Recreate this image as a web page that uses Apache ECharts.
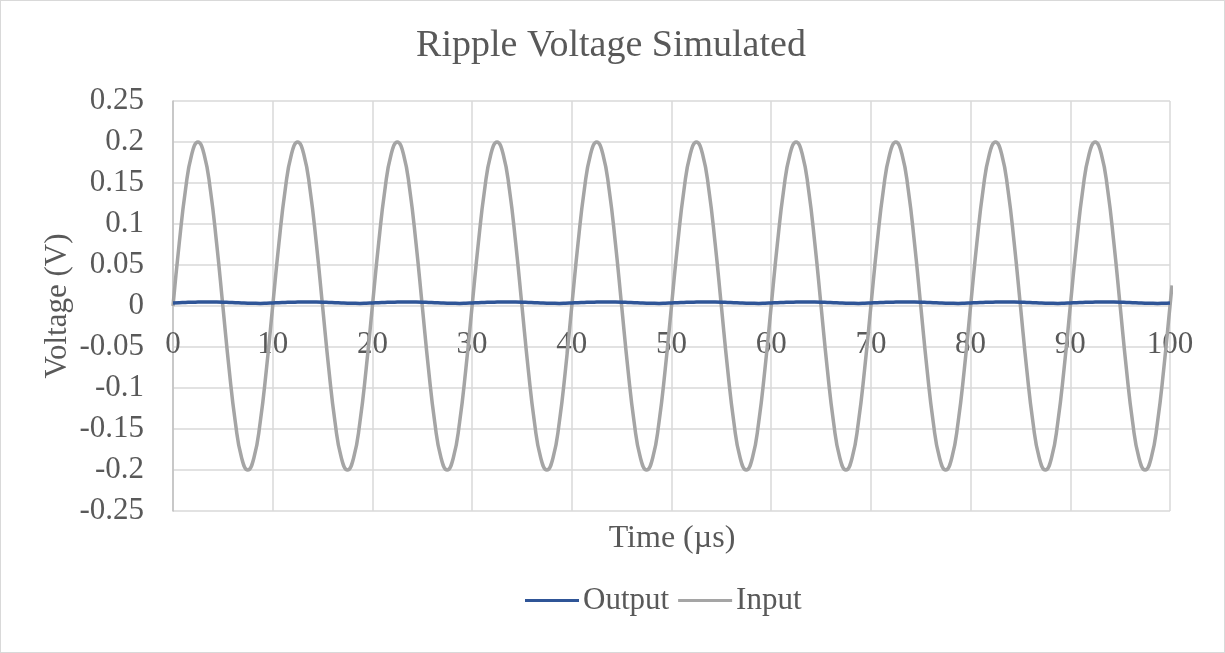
<!DOCTYPE html>
<html>
<head>
<meta charset="utf-8">
<script src="https://cdn.jsdelivr.net/npm/echarts@6/dist/echarts.min.js"></script>
<style>
  html, body { margin: 0; padding: 0; background: #fff; }
  #chart { width: 1225px; height: 653px; box-sizing: border-box; border: 1px solid #d9d9d9; }
</style>
</head>
<body>
<div id="chart"></div>
<script>
// time samples (µs), one period = 10 µs, one row per period
const times = [
  0, 0.625, 1.25, 1.875, 2.5, 3.125, 3.75, 4.375, 5, 5.625, 6.25, 6.875, 7.5, 8.125, 8.75, 9.375,
  10, 10.625, 11.25, 11.875, 12.5, 13.125, 13.75, 14.375, 15, 15.625, 16.25, 16.875, 17.5, 18.125, 18.75, 19.375,
  20, 20.625, 21.25, 21.875, 22.5, 23.125, 23.75, 24.375, 25, 25.625, 26.25, 26.875, 27.5, 28.125, 28.75, 29.375,
  30, 30.625, 31.25, 31.875, 32.5, 33.125, 33.75, 34.375, 35, 35.625, 36.25, 36.875, 37.5, 38.125, 38.75, 39.375,
  40, 40.625, 41.25, 41.875, 42.5, 43.125, 43.75, 44.375, 45, 45.625, 46.25, 46.875, 47.5, 48.125, 48.75, 49.375,
  50, 50.625, 51.25, 51.875, 52.5, 53.125, 53.75, 54.375, 55, 55.625, 56.25, 56.875, 57.5, 58.125, 58.75, 59.375,
  60, 60.625, 61.25, 61.875, 62.5, 63.125, 63.75, 64.375, 65, 65.625, 66.25, 66.875, 67.5, 68.125, 68.75, 69.375,
  70, 70.625, 71.25, 71.875, 72.5, 73.125, 73.75, 74.375, 75, 75.625, 76.25, 76.875, 77.5, 78.125, 78.75, 79.375,
  80, 80.625, 81.25, 81.875, 82.5, 83.125, 83.75, 84.375, 85, 85.625, 86.25, 86.875, 87.5, 88.125, 88.75, 89.375,
  90, 90.625, 91.25, 91.875, 92.5, 93.125, 93.75, 94.375, 95, 95.625, 96.25, 96.875, 97.5, 98.125, 98.75, 99.375,
  100, 100.2
]

const inputV = [
  0, 0.0765, 0.1414, 0.1848, 0.2, 0.1848, 0.1414, 0.0765, 0, -0.0765, -0.1414, -0.1848, -0.2, -0.1848, -0.1414, -0.0765,
  0, 0.0765, 0.1414, 0.1848, 0.2, 0.1848, 0.1414, 0.0765, 0, -0.0765, -0.1414, -0.1848, -0.2, -0.1848, -0.1414, -0.0765,
  0, 0.0765, 0.1414, 0.1848, 0.2, 0.1848, 0.1414, 0.0765, 0, -0.0765, -0.1414, -0.1848, -0.2, -0.1848, -0.1414, -0.0765,
  0, 0.0765, 0.1414, 0.1848, 0.2, 0.1848, 0.1414, 0.0765, 0, -0.0765, -0.1414, -0.1848, -0.2, -0.1848, -0.1414, -0.0765,
  0, 0.0765, 0.1414, 0.1848, 0.2, 0.1848, 0.1414, 0.0765, 0, -0.0765, -0.1414, -0.1848, -0.2, -0.1848, -0.1414, -0.0765,
  0, 0.0765, 0.1414, 0.1848, 0.2, 0.1848, 0.1414, 0.0765, 0, -0.0765, -0.1414, -0.1848, -0.2, -0.1848, -0.1414, -0.0765,
  0, 0.0765, 0.1414, 0.1848, 0.2, 0.1848, 0.1414, 0.0765, 0, -0.0765, -0.1414, -0.1848, -0.2, -0.1848, -0.1414, -0.0765,
  0, 0.0765, 0.1414, 0.1848, 0.2, 0.1848, 0.1414, 0.0765, 0, -0.0765, -0.1414, -0.1848, -0.2, -0.1848, -0.1414, -0.0765,
  0, 0.0765, 0.1414, 0.1848, 0.2, 0.1848, 0.1414, 0.0765, 0, -0.0765, -0.1414, -0.1848, -0.2, -0.1848, -0.1414, -0.0765,
  0, 0.0765, 0.1414, 0.1848, 0.2, 0.1848, 0.1414, 0.0765, 0, -0.0765, -0.1414, -0.1848, -0.2, -0.1848, -0.1414, -0.0765,
  0, 0.025
]

const outputV = [
  0.0037, 0.0040, 0.0043, 0.0046, 0.0048, 0.0050, 0.0050, 0.0049, 0.0047, 0.0044, 0.0041, 0.0038, 0.0035, 0.0033, 0.0032, 0.0034,
  0.0037, 0.0040, 0.0043, 0.0046, 0.0048, 0.0050, 0.0050, 0.0049, 0.0047, 0.0044, 0.0041, 0.0038, 0.0035, 0.0033, 0.0032, 0.0034,
  0.0037, 0.0040, 0.0043, 0.0046, 0.0048, 0.0050, 0.0050, 0.0049, 0.0047, 0.0044, 0.0041, 0.0038, 0.0035, 0.0033, 0.0032, 0.0034,
  0.0037, 0.0040, 0.0043, 0.0046, 0.0048, 0.0050, 0.0050, 0.0049, 0.0047, 0.0044, 0.0041, 0.0038, 0.0035, 0.0033, 0.0032, 0.0034,
  0.0037, 0.0040, 0.0043, 0.0046, 0.0048, 0.0050, 0.0050, 0.0049, 0.0047, 0.0044, 0.0041, 0.0038, 0.0035, 0.0033, 0.0032, 0.0034,
  0.0037, 0.0040, 0.0043, 0.0046, 0.0048, 0.0050, 0.0050, 0.0049, 0.0047, 0.0044, 0.0041, 0.0038, 0.0035, 0.0033, 0.0032, 0.0034,
  0.0037, 0.0040, 0.0043, 0.0046, 0.0048, 0.0050, 0.0050, 0.0049, 0.0047, 0.0044, 0.0041, 0.0038, 0.0035, 0.0033, 0.0032, 0.0034,
  0.0037, 0.0040, 0.0043, 0.0046, 0.0048, 0.0050, 0.0050, 0.0049, 0.0047, 0.0044, 0.0041, 0.0038, 0.0035, 0.0033, 0.0032, 0.0034,
  0.0037, 0.0040, 0.0043, 0.0046, 0.0048, 0.0050, 0.0050, 0.0049, 0.0047, 0.0044, 0.0041, 0.0038, 0.0035, 0.0033, 0.0032, 0.0034,
  0.0037, 0.0040, 0.0043, 0.0046, 0.0048, 0.0050, 0.0050, 0.0049, 0.0047, 0.0044, 0.0041, 0.0038, 0.0035, 0.0033, 0.0032, 0.0034,
  0.0037
]

const FONT = '"Times New Roman", "Liberation Serif", serif'
const TEXT = '#595959'
const GRID_LINE = '#d9d9d9'

const chart = echarts.init(document.getElementById('chart'), null, { renderer: 'canvas' })

chart.setOption({
  animation: false,
  backgroundColor: '#fff',
  textStyle: { fontFamily: FONT, color: TEXT },
  title: [
    {
      text: 'Ripple Voltage Simulated',
      left: 605,
      textAlign: 'center',
      top: 21,
      textStyle: { fontFamily: FONT, fontSize: 38, fontWeight: 'normal', color: TEXT },
    },
    {
      text: 'Time (µs)',
      left: 666,
      textAlign: 'center',
      top: 517,
      textStyle: { fontFamily: FONT, fontSize: 32, fontWeight: 'normal', color: TEXT },
    },
  ],
  legend: {
    top: 579,
    left: 519,
    icon: 'rect',
    itemWidth: 54,
    itemHeight: 3,
    itemGap: 9,
    textStyle: { fontFamily: FONT, fontSize: 31, color: TEXT, padding: [0, 0, 0, -1] },
    data: ['Output', 'Input'],
  },
  grid: [
    { left: 172, right: 54, top: 100, bottom: 141 },
    // label-only grid whose bottom edge sits on the zero line
    { left: 172, right: 54, top: 100, bottom: 347 },
  ],
  xAxis: [
    {
      type: 'value',
      gridIndex: 0,
      min: 0,
      max: 100,
      interval: 10,
      axisLine: { show: false },
      axisTick: { show: false },
      axisLabel: { show: false },
      splitLine: { show: true, lineStyle: { color: GRID_LINE, width: 1.5 } },
    },
    {
      type: 'value',
      gridIndex: 1,
      min: 0,
      max: 100,
      interval: 10,
      axisLine: { show: false },
      axisTick: { show: false },
      axisLabel: { fontFamily: FONT, fontSize: 31, color: TEXT, margin: 24 },
      splitLine: { show: false },
    },
  ],
  yAxis: [
    {
      type: 'value',
      gridIndex: 0,
      min: -0.25,
      max: 0.25,
      interval: 0.05,
      name: 'Voltage (V)',
      nameLocation: 'middle',
      nameGap: 100,
      nameMoveOverlap: false,
      nameTextStyle: { fontFamily: FONT, fontSize: 31, color: TEXT },
      axisLine: { show: true, onZero: false, lineStyle: { color: '#bfbfbf', width: 1.5 } },
      axisTick: { show: false },
      axisLabel: {
        fontFamily: FONT,
        fontSize: 31,
        color: TEXT,
        margin: 29,
        formatter: (v) => String(Math.round(v * 100) / 100),
      },
      splitLine: { lineStyle: { color: GRID_LINE, width: 1.5 } },
    },
    { type: 'value', gridIndex: 1, show: false },
  ],
  series: [
    {
      name: 'Output',
      type: 'line',
      xAxisIndex: 0,
      yAxisIndex: 0,
      data: outputV.map((v, i) => [times[i], v]),
      smooth: true,
      symbol: 'none',
      lineStyle: { color: '#2f5597', width: 3.5 },
      itemStyle: { color: '#2f5597' },
      z: 3,
    },
    {
      name: 'Input',
      type: 'line',
      xAxisIndex: 0,
      yAxisIndex: 0,
      data: inputV.map((v, i) => [times[i], v]),
      smooth: true,
      clip: false,
      symbol: 'none',
      lineStyle: { color: '#a5a5a5', width: 3.5 },
      itemStyle: { color: '#a5a5a5' },
      z: 2,
    },
  ],
})
</script>
</body>
</html>
